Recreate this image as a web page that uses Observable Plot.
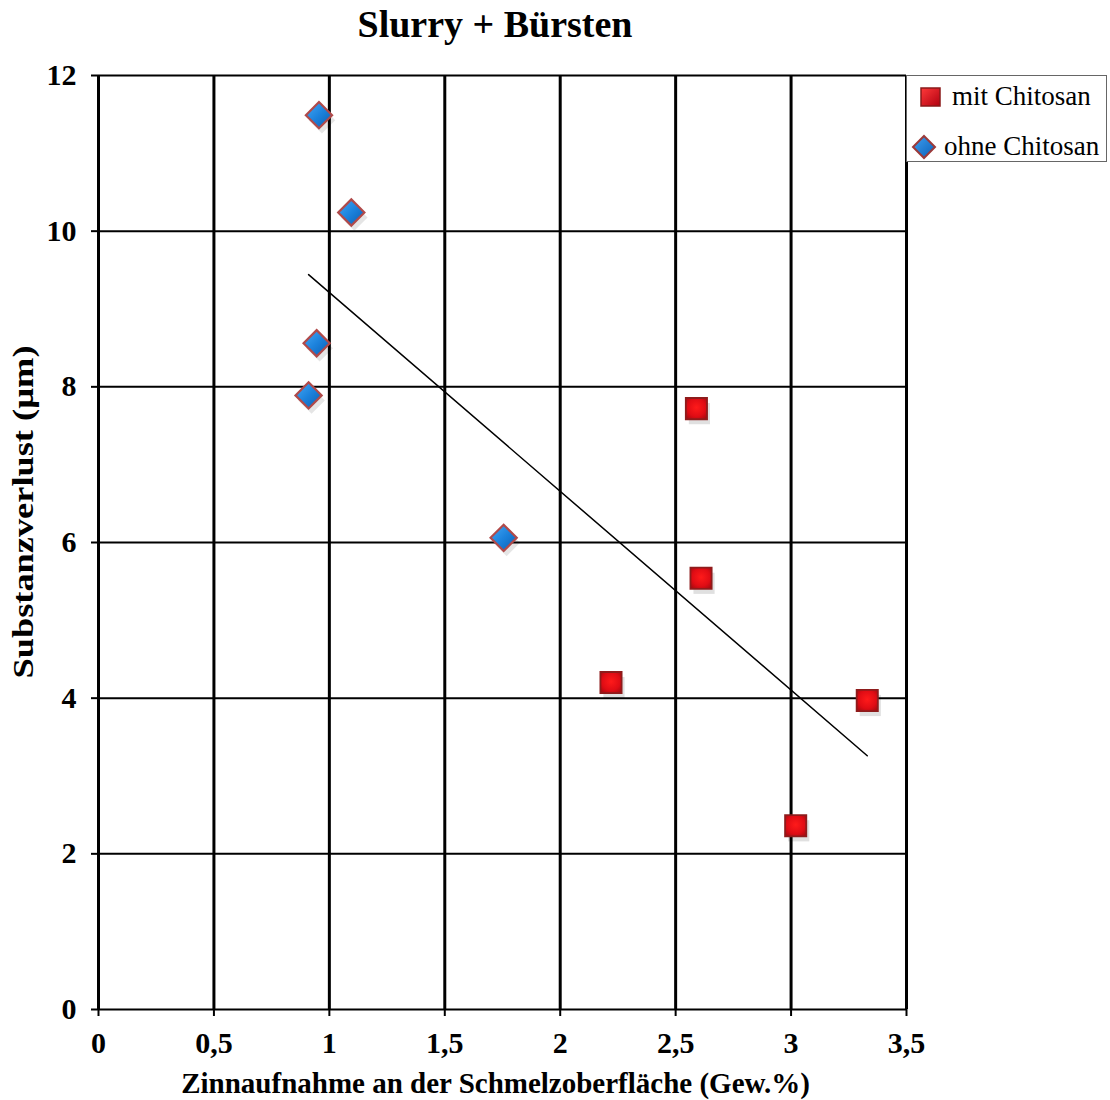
<!DOCTYPE html>
<html>
<head>
<meta charset="utf-8">
<script src="https://cdn.jsdelivr.net/npm/d3@7"></script>
<script src="https://cdn.jsdelivr.net/npm/@observablehq/plot@0.6"></script>
<style>
  body { margin: 0; background: #fff; }
  #wrap { position: relative; width: 1110px; height: 1100px; font-family: "Liberation Serif", "Times New Roman", serif; }
  #title { position: absolute; left: 0; top: 2px; width: 990px; text-align: center; font-size: 38px; font-weight: bold; }
  #legend { position: absolute; left: 906px; top: 75px; width: 201px; height: 87px; border: 1px solid #666; background: #fff; box-sizing: border-box; font-size: 27px; }
  .li { position: absolute; display: flex; align-items: center; white-space: nowrap; }
  #chart { position: absolute; left: 0; top: 0; }
  #chart svg g[aria-label="x-axis tick label"] text,
  #chart svg g[aria-label="y-axis tick label"] text { font-size: 30px !important; font-weight: bold; }
</style>
</head>
<body>
<div id="wrap">
  <div id="chart"></div>
  <div id="title">Slurry + Bürsten</div>
  <div id="legend">
    <div class="li" style="left:12px; top:5px;">
      <svg width="24" height="26"><defs><linearGradient id="lg1" x1="0" y1="0" x2="1" y2="1"><stop offset="0" stop-color="#ff3a3a"/><stop offset="1" stop-color="#b00010"/></linearGradient></defs><rect x="2" y="4" width="19" height="18" fill="url(#lg1)" stroke="#8a1a1a" stroke-width="1.5"/></svg>
      <span style="margin-left:9px">mit Chitosan</span>
    </div>
    <div class="li" style="left:3px; top:55px;">
      <svg width="28" height="28"><defs><linearGradient id="lg2" x1="0" y1="0" x2="1" y2="1"><stop offset="0" stop-color="#3fa0f0"/><stop offset="1" stop-color="#0a5fb8"/></linearGradient></defs><path d="M14,3 L25,14 L14,25 L3,14 Z" fill="url(#lg2)" stroke="#9b3a3a" stroke-width="2"/></svg>
      <span style="margin-left:6px">ohne Chitosan</span>
    </div>
  </div>
</div>
<script>
// Data
const mitX = [2.59, 2.61, 2.22, 3.33, 3.02];
const mitY = [7.72, 5.54, 4.20, 3.97, 2.36];
const ohneX = [0.955, 1.095, 0.945, 0.91, 1.755];
const ohneY = [11.49, 10.24, 8.56, 7.89, 6.06];
const xTicks = [0, 0.5, 1, 1.5, 2, 2.5, 3, 3.5];
const xTickLabels = ["0", "0,5", "1", "1,5", "2", "2,5", "3", "3,5"];
const yTicks = [0, 2, 4, 6, 8, 10, 12];
const yTickLabels = ["0", "2", "4", "6", "8", "10", "12"];
const xLabel = "Zinnaufnahme an der Schmelzoberfläche (Gew.%)";
const yLabel = "Substanzverlust (µm)";

const mit = mitX.map((x, i) => ({x, y: mitY[i]}));
const ohne = ohneX.map((x, i) => ({x, y: ohneY[i]}));
const all = mit.concat(ohne);

const chart = Plot.plot({
  width: 1110,
  height: 1100,
  marginLeft: 98,
  marginRight: 204,
  marginTop: 75,
  marginBottom: 91,
  style: {fontFamily: "'Liberation Serif', 'Times New Roman', serif", color: "black", background: "transparent"},
  x: {domain: [0, 3.5]},
  y: {domain: [0, 12]},
  marks: [
    Plot.gridX(xTicks, {stroke: "black", strokeOpacity: 1, strokeWidth: 3}),
    Plot.gridY(yTicks, {stroke: "black", strokeOpacity: 1, strokeWidth: 2}),
    Plot.axisX({ticks: xTicks, tickFormat: d => xTickLabels[xTicks.indexOf(d)], tickSize: 7, tickPadding: 15, strokeWidth: 2, label: null}),
    Plot.axisY({ticks: yTicks, tickFormat: d => yTickLabels[yTicks.indexOf(d)], tickSize: 7, tickPadding: 15, strokeWidth: 2, label: null}),
    Plot.text([xLabel], {text: d => d, frameAnchor: "bottom", dx: -7, dy: 74, lineAnchor: "middle", fontSize: 29, fontWeight: "bold"}),
    Plot.text([yLabel], {text: d => d, frameAnchor: "left", dx: -75, dy: 136, rotate: -90, textAnchor: "start", lineAnchor: "middle", fontSize: 30, fontWeight: "bold"}),
    Plot.linearRegressionY(all, {x: "x", y: "y", ci: 0, stroke: "black", strokeWidth: 1.5}),
    // shadows
    Plot.dot(ohne, {x: "x", y: "y", symbol: "diamond2", r: 12, fill: "#000", fillOpacity: 0.1, dx: 3, dy: 5}),
    Plot.dot(mit, {x: "x", y: "y", symbol: "square2", r: 13.5, fill: "#000", fillOpacity: 0.12, dx: 3, dy: 5}),
    Plot.dot(ohne, {x: "x", y: "y", symbol: "diamond2", r: 11.8, fill: "url(#gBlue)", stroke: "#b04a4a", strokeWidth: 2.2}),
    Plot.dot(mit, {x: "x", y: "y", symbol: "square2", r: 13.5, fill: "url(#gRed)", stroke: "#8e1c1c", strokeWidth: 1.8})
  ]
});

// gradient defs for the 3D marker look
const ns = "http://www.w3.org/2000/svg";
const defs = document.createElementNS(ns, "defs");
defs.innerHTML = `
  <radialGradient id="gRed" cx="0.5" cy="0.45" r="0.7">
    <stop offset="0" stop-color="#ff1a1a"/>
    <stop offset="0.6" stop-color="#e00c14"/>
    <stop offset="1" stop-color="#a00a10"/>
  </radialGradient>
  <linearGradient id="gBlue" x1="0" y1="0" x2="1" y2="1">
    <stop offset="0" stop-color="#45a8f5"/>
    <stop offset="0.5" stop-color="#1c82dc"/>
    <stop offset="1" stop-color="#0a5cb0"/>
  </linearGradient>`;
chart.insertBefore(defs, chart.firstChild);
// the y label in the reference is drawn stretched along its length
chart.querySelectorAll("text").forEach(t => {
  if (t.textContent === yLabel) { t.setAttribute("textLength", 333); t.setAttribute("lengthAdjust", "spacingAndGlyphs"); }
});
document.getElementById("chart").appendChild(chart);
</script>
</body>
</html>
